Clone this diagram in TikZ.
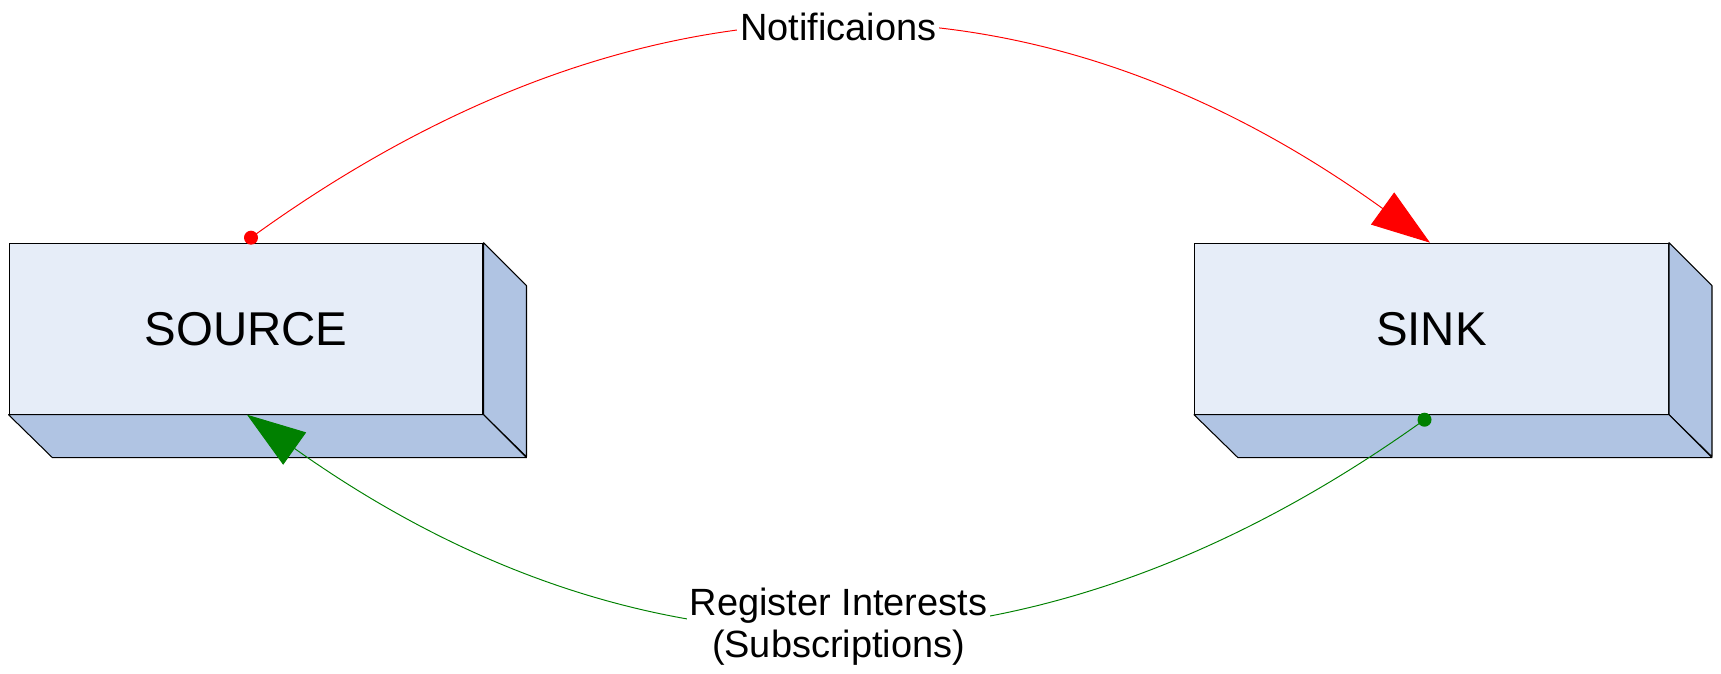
\documentclass[tikz,border=0pt]{standalone}
\usepackage{fontspec}
\setmainfont{Liberation Sans}
\usetikzlibrary{arrows.meta}
\definecolor{facefront}{HTML}{E6EDF8}
\definecolor{faceside}{HTML}{B0C4E3}
\definecolor{linkgreen}{RGB}{0,128,0}
\begin{document}
\begin{tikzpicture}[x=0.02cm, y=-0.02cm,
  frontface/.style={draw=black, line width=0.6pt, fill=facefront,
    minimum width=9.48cm, minimum height=3.42cm, inner sep=0pt,
    font=\fontsize{27}{31}\selectfont},
  sideface/.style={draw=black, line width=0.6pt, fill=faceside, line join=round},
  dot/.style={circle, inner sep=0pt, minimum size=0.28cm},
  link/.style={line width=0.55pt},
  linklabel/.style={fill=white, text=black, inner sep=0.06cm, align=center,
    font=\fontsize{21.6}{24}\selectfont},
  tip/.style={-{Triangle[length=1.17cm, width=0.79cm]}}
]
\useasboundingbox (0,0) rectangle (1721,673);

% front faces of the two blocks
\node[frontface] (source) at (246,328.7) {SOURCE};
\node[frontface] (sink) at (1431.5,328.7) {SINK};

% right and bottom faces giving the blocks their depth
\foreach \b in {source, sink} {
  \filldraw[sideface] (\b.north east) -- ++(43,43) -- ++(0,171) -- (\b.south east) -- cycle;
  \filldraw[sideface] (\b.south west) -- (\b.south east) -- ++(43,43) -- ++(-474,0) -- cycle;
}

% connection points
\node[dot, fill=red] (srcdot) at ([xshift=0.1cm, yshift=0.1cm]source.north) {};
\node[dot, fill=linkgreen] (sinkdot) at ([xshift=-0.14cm, yshift=-0.1cm]sink.south) {};

% notifications: source -> sink
\draw[link, red, tip] (srcdot.center) .. controls (641,-45) and (1034,-43) .. ([xshift=-0.03cm]sink.north)
  node[linklabel, pos=0.5] (notif) {Notificaions};

% subscriptions: sink -> source
\draw[link, linkgreen, tip] (sinkdot.center) .. controls (1036,698) and (643,696) .. ([xshift=0.02cm]source.south)
  node[linklabel, pos=0.5] (subs) {Register Interests\\(Subscriptions)};
\end{tikzpicture}
\end{document}
